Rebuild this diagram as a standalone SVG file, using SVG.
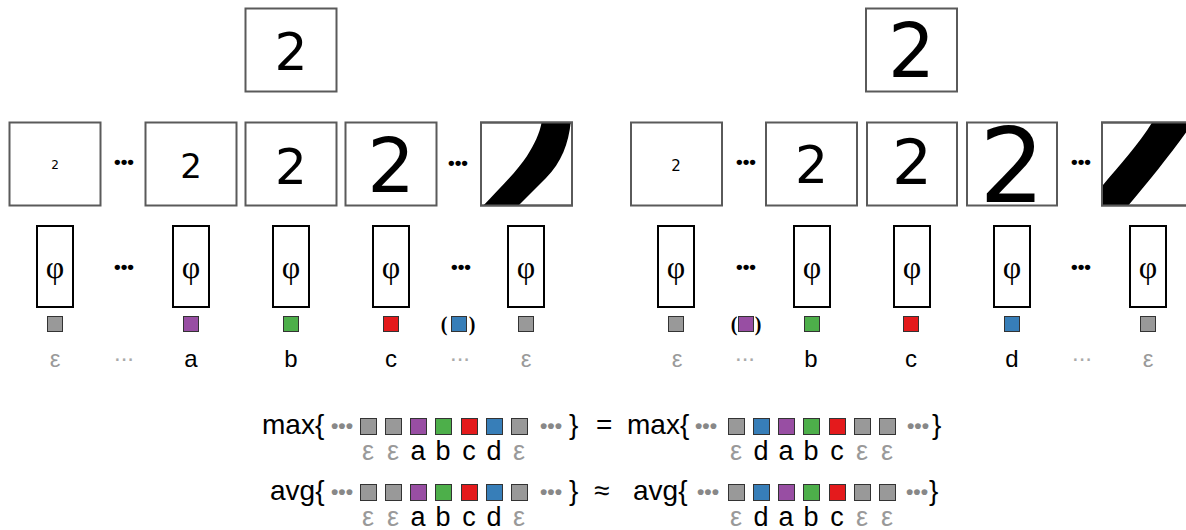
<svg xmlns="http://www.w3.org/2000/svg" width="1186" height="530" viewBox="0 0 1186 530">
<style>
.img{fill:#fff;stroke:#5a5a5a;stroke-width:2}
.dig{font-family:"DejaVu Sans",sans-serif;text-anchor:middle;fill:#000}
.phi{fill:#fff;stroke:#000;stroke-width:2}
.phit{font-family:"Liberation Serif",serif;font-size:32px;text-anchor:middle;fill:#000}
.bdots{font-family:"Liberation Sans",sans-serif;font-size:19px;font-weight:bold;text-anchor:middle;fill:#000}
.gdots{font-family:"Liberation Sans",sans-serif;font-size:24px;text-anchor:middle;fill:#aaa}
.fdots{font-family:"Liberation Sans",sans-serif;font-size:21px;font-weight:bold;text-anchor:middle;fill:#888}
.lab{font-family:"Liberation Sans",sans-serif;font-size:24px;text-anchor:middle;fill:#000}
.flab{font-family:"Liberation Sans",sans-serif;font-size:27px;text-anchor:middle;fill:#000}
.eps{fill:#999}
.par{font-family:"Liberation Serif",serif;font-size:20px;font-weight:bold;fill:#000;text-anchor:middle}
.fx{font-family:"Liberation Sans",sans-serif;font-size:28px;fill:#000}
.sq{stroke:#333;stroke-width:1}
.g{fill:#999}.p{fill:#984ea3}.gr{fill:#4daf4a}.r{fill:#e41a1c}.b{fill:#377eb8}
</style>
<defs>
<clipPath id="cL"><rect x="481" y="122.5" width="91" height="83"/></clipPath>
<clipPath id="cR"><rect x="1102" y="122.5" width="91" height="83"/></clipPath>
</defs>

<!-- LEFT PANEL -->
<g id="left-top"><rect class="img" x="245.5" y="8.5" width="91" height="83"/><text class="dig" x="291" y="70" font-size="52">2</text></g>
<g id="left-img1"><rect class="img" x="9.5" y="122.5" width="91" height="83"/><text class="dig" x="55" y="169" font-size="12">2</text></g>
<g id="left-img2"><rect class="img" x="145.5" y="122.5" width="91" height="83"/><text class="dig" x="191" y="178" font-size="34">2</text></g>
<g id="left-img3"><rect class="img" x="245.5" y="122.5" width="91" height="83"/><text class="dig" x="291" y="184" font-size="50">2</text></g>
<g id="left-img4"><rect class="img" x="345.5" y="122.5" width="91" height="83"/><text class="dig" x="391" y="192" font-size="75">2</text></g>
<g id="left-img5"><rect class="img" x="481" y="122.5" width="91" height="83"/>
<path clip-path="url(#cL)" d="M481 208 C500 188 518 170 527 156 C535 143 540 133 542 120 L571 120 C569 142 562 162 546 178 L516 208 Z" fill="#000"/>
<rect x="481" y="122.5" width="91" height="83" fill="none" stroke="#5a5a5a" stroke-width="2"/></g>
<text class="bdots" x="124" y="168">•••</text>
<text class="bdots" x="458" y="169">•••</text>

<g id="left-phi1"><rect class="phi" x="37" y="226" width="36" height="81"/><text class="phit" x="55" y="278">φ</text></g>
<g id="left-phi2"><rect class="phi" x="173" y="226" width="36" height="81"/><text class="phit" x="191" y="278">φ</text></g>
<g id="left-phi3"><rect class="phi" x="273" y="226" width="36" height="81"/><text class="phit" x="291" y="278">φ</text></g>
<g id="left-phi4"><rect class="phi" x="373" y="226" width="36" height="81"/><text class="phit" x="391" y="278">φ</text></g>
<g id="left-phi5"><rect class="phi" x="508" y="226" width="36" height="81"/><text class="phit" x="526" y="278">φ</text></g>
<text class="bdots" x="124" y="273">•••</text>
<text class="bdots" x="461" y="273">•••</text>

<g id="left-emb">
<rect class="sq g" x="47.5" y="316.5" width="15" height="15"/>
<rect class="sq p" x="183.5" y="316.5" width="15" height="15"/>
<rect class="sq gr" x="283.5" y="316.5" width="15" height="15"/>
<rect class="sq r" x="383.5" y="316.5" width="15" height="15"/>
<text class="par" x="444" y="331">(</text><rect class="sq b" x="451.5" y="316.5" width="15" height="15"/><text class="par" x="472" y="331">)</text>
<rect class="sq g" x="518.5" y="316.5" width="15" height="15"/>
</g>
<g id="left-labels">
<text class="lab eps" x="55" y="367">ε</text>
<text class="gdots" x="124" y="361">...</text>
<text class="lab" x="191" y="367">a</text>
<text class="lab" x="291" y="367">b</text>
<text class="lab" x="391" y="367">c</text>
<text class="gdots" x="460" y="361">...</text>
<text class="lab eps" x="526" y="367">ε</text>
</g>

<!-- RIGHT PANEL -->
<g id="right-top"><rect class="img" x="866" y="8.5" width="91" height="83"/><text class="dig" x="911.5" y="77" font-size="74">2</text></g>
<g id="right-img1"><rect class="img" x="631" y="122.5" width="91" height="83"/><text class="dig" x="676" y="171" font-size="15">2</text></g>
<g id="right-img2"><rect class="img" x="766" y="122.5" width="91" height="83"/><text class="dig" x="811.5" y="183" font-size="52">2</text></g>
<g id="right-img3"><rect class="img" x="867" y="122.5" width="90" height="83"/><text class="dig" x="912" y="184" font-size="63">2</text></g>
<g id="right-img4"><rect class="img" x="967" y="122.5" width="90" height="83"/><text class="dig" x="1012" y="202" font-size="103">2</text></g>
<g id="right-img5"><rect class="img" x="1102" y="122.5" width="91" height="83"/>
<path clip-path="url(#cR)" d="M1080 210 L1103 185 C1118 167 1140 143 1153 121 L1200 121 L1190 127 C1170 155 1150 180 1127 207 Z" fill="#000"/>
<rect x="1102" y="122.5" width="91" height="83" fill="none" stroke="#5a5a5a" stroke-width="2"/></g>
<text class="bdots" x="746" y="168">•••</text>
<text class="bdots" x="1081" y="168">•••</text>

<g id="right-phi1"><rect class="phi" x="658" y="226" width="36" height="81"/><text class="phit" x="676" y="278">φ</text></g>
<g id="right-phi2"><rect class="phi" x="794" y="226" width="36" height="81"/><text class="phit" x="812" y="278">φ</text></g>
<g id="right-phi3"><rect class="phi" x="894" y="226" width="36" height="81"/><text class="phit" x="912" y="278">φ</text></g>
<g id="right-phi4"><rect class="phi" x="994" y="226" width="36" height="81"/><text class="phit" x="1012" y="278">φ</text></g>
<g id="right-phi5"><rect class="phi" x="1130" y="226" width="36" height="81"/><text class="phit" x="1148" y="278">φ</text></g>
<text class="bdots" x="746" y="273">•••</text>
<text class="bdots" x="1081" y="273">•••</text>

<g id="right-emb">
<rect class="sq g" x="668.5" y="316.5" width="15" height="15"/>
<text class="par" x="734" y="331">(</text><rect class="sq p" x="738.5" y="316.5" width="15" height="15"/><text class="par" x="758" y="331">)</text>
<rect class="sq gr" x="804.5" y="316.5" width="15" height="15"/>
<rect class="sq r" x="903.5" y="316.5" width="15" height="15"/>
<rect class="sq b" x="1004.5" y="316.5" width="15" height="15"/>
<rect class="sq g" x="1140.5" y="316.5" width="15" height="15"/>
</g>
<g id="right-labels">
<text class="lab eps" x="677" y="367">ε</text>
<text class="gdots" x="745" y="361">...</text>
<text class="lab" x="811" y="367">b</text>
<text class="lab" x="911" y="367">c</text>
<text class="lab" x="1012" y="367">d</text>
<text class="gdots" x="1082" y="361">...</text>
<text class="lab eps" x="1148" y="367">ε</text>
</g>

<!-- FORMULAS -->
<g id="formula-max">
<text class="fx" x="262" y="434">max{</text>
<text class="fdots" x="342" y="433">•••</text>
<rect class="sq g" x="360.5" y="418.5" width="16" height="16"/>
<rect class="sq g" x="385.5" y="418.5" width="16" height="16"/>
<rect class="sq p" x="410.5" y="418.5" width="16" height="16"/>
<rect class="sq gr" x="435.5" y="418.5" width="16" height="16"/>
<rect class="sq r" x="461.5" y="418.5" width="16" height="16"/>
<rect class="sq b" x="486.5" y="418.5" width="16" height="16"/>
<rect class="sq g" x="511.5" y="418.5" width="16" height="16"/>
<text class="fdots" x="551" y="433">•••</text>
<text class="fx" x="569" y="434">}</text>
<text class="flab eps" x="368" y="460">ε</text>
<text class="flab eps" x="393" y="460">ε</text>
<text class="flab" x="418" y="460">a</text>
<text class="flab" x="443" y="460">b</text>
<text class="flab" x="469" y="460">c</text>
<text class="flab" x="494" y="460">d</text>
<text class="flab eps" x="519" y="460">ε</text>
<text class="fx" x="596" y="434">=</text>
<text class="fx" x="627" y="434">max{</text>
<text class="fdots" x="706" y="433">•••</text>
<rect class="sq g" x="728.5" y="418.5" width="16" height="16"/>
<rect class="sq b" x="753.5" y="418.5" width="16" height="16"/>
<rect class="sq p" x="778.5" y="418.5" width="16" height="16"/>
<rect class="sq gr" x="803.5" y="418.5" width="16" height="16"/>
<rect class="sq r" x="829.5" y="418.5" width="16" height="16"/>
<rect class="sq g" x="854.5" y="418.5" width="16" height="16"/>
<rect class="sq g" x="879.5" y="418.5" width="16" height="16"/>
<text class="fdots" x="918" y="433">•••</text>
<text class="fx" x="932" y="434">}</text>
<text class="flab eps" x="736" y="460">ε</text>
<text class="flab" x="761" y="460">d</text>
<text class="flab" x="786" y="460">a</text>
<text class="flab" x="811" y="460">b</text>
<text class="flab" x="837" y="460">c</text>
<text class="flab eps" x="862" y="460">ε</text>
<text class="flab eps" x="887" y="460">ε</text>
</g>

<g id="formula-avg">
<text class="fx" x="270" y="500">avg{</text>
<text class="fdots" x="342" y="499">•••</text>
<rect class="sq g" x="360.5" y="484.5" width="16" height="16"/>
<rect class="sq g" x="385.5" y="484.5" width="16" height="16"/>
<rect class="sq p" x="410.5" y="484.5" width="16" height="16"/>
<rect class="sq gr" x="435.5" y="484.5" width="16" height="16"/>
<rect class="sq r" x="461.5" y="484.5" width="16" height="16"/>
<rect class="sq b" x="486.5" y="484.5" width="16" height="16"/>
<rect class="sq g" x="511.5" y="484.5" width="16" height="16"/>
<text class="fdots" x="551" y="499">•••</text>
<text class="fx" x="569" y="500">}</text>
<text class="flab eps" x="368" y="526">ε</text>
<text class="flab eps" x="393" y="526">ε</text>
<text class="flab" x="418" y="526">a</text>
<text class="flab" x="443" y="526">b</text>
<text class="flab" x="469" y="526">c</text>
<text class="flab" x="494" y="526">d</text>
<text class="flab eps" x="519" y="526">ε</text>
<text class="fx" x="594" y="500">≈</text>
<text class="fx" x="633" y="500">avg{</text>
<text class="fdots" x="708" y="499">•••</text>
<rect class="sq g" x="728.5" y="484.5" width="16" height="16"/>
<rect class="sq b" x="753.5" y="484.5" width="16" height="16"/>
<rect class="sq p" x="778.5" y="484.5" width="16" height="16"/>
<rect class="sq gr" x="803.5" y="484.5" width="16" height="16"/>
<rect class="sq r" x="829.5" y="484.5" width="16" height="16"/>
<rect class="sq g" x="854.5" y="484.5" width="16" height="16"/>
<rect class="sq g" x="879.5" y="484.5" width="16" height="16"/>
<text class="fdots" x="917" y="499">•••</text>
<text class="fx" x="929" y="500">}</text>
<text class="flab eps" x="736" y="526">ε</text>
<text class="flab" x="761" y="526">d</text>
<text class="flab" x="786" y="526">a</text>
<text class="flab" x="811" y="526">b</text>
<text class="flab" x="837" y="526">c</text>
<text class="flab eps" x="862" y="526">ε</text>
<text class="flab eps" x="887" y="526">ε</text>
</g>
</svg>
